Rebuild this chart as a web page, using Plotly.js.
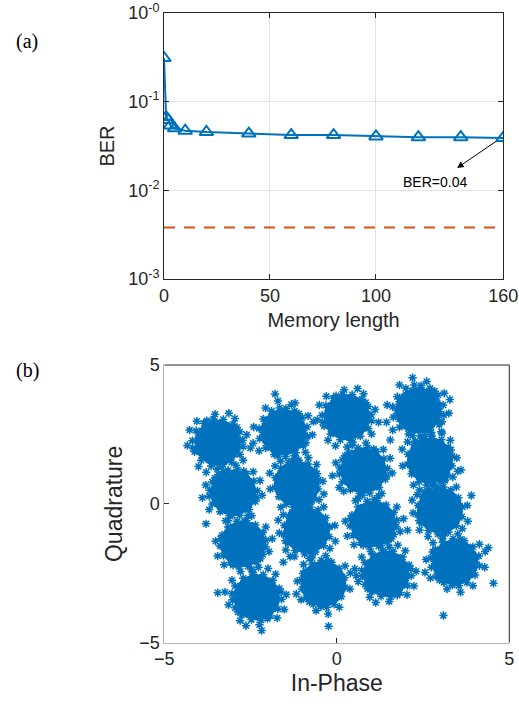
<!DOCTYPE html>
<html>
<head>
<meta charset="utf-8">
<script src="https://cdn.plot.ly/plotly-3.0.1.min.js"></script>
<style>html,body{margin:0;padding:0;background:#fff;}#chart{width:519px;height:711px;}</style>
</head>
<body>
<div id="chart"></div>
<script>
// ---- Panel (a): BER vs memory length ----
const memoryLength = [0, 1, 2, 3, 5, 10, 20, 40, 60, 80, 100, 120, 140, 160];
const berValues = [0.31, 0.067, 0.062, 0.054, 0.050, 0.047, 0.0455, 0.0437, 0.042, 0.042, 0.0405, 0.0398, 0.0398, 0.039];
const thresholdX = [0, 160];
const thresholdBER = [0.0038, 0.0038];
const berTickVals = [0.001, 0.01, 0.1, 1];
const berTickText = ['10<sup>-3</sup>', '10<sup>-2</sup>', '10<sup>-1</sup>', '10<sup>-0</sup>'];
const memTickVals = [0, 50, 100, 160];

// ---- Panel (b): constellation ----
const clusterI = [-3.45, -3.0, -2.72, -2.32, -1.55, -1.16, -0.87, -0.39, 0.29, 0.77, 1.06, 1.44, 2.36, 2.70, 2.99, 3.43];
const clusterQ = [2.2, 0.4, -1.44, -3.36, 2.58, 0.72, -0.96, -2.88, 3.12, 1.2, -0.72, -2.52, 3.36, 1.56, -0.24, -2.1];
const spreadI = [0.8, 0.76, 0.72, 0.78, 0.78, 0.7, 0.74, 0.7, 0.78, 0.76, 0.74, 0.78, 0.82, 0.72, 0.72, 0.78];
const spreadQ = [0.95, 0.92, 0.92, 0.92, 0.95, 0.92, 0.92, 0.92, 0.92, 0.92, 0.92, 0.92, 1.0, 0.96, 0.92, 0.92];
const offsetPattern = [
  [0.00,0.00],[0.12,0.08],[-0.10,0.14],[0.06,-0.16],[-0.18,-0.06],[0.20,-0.10],[-0.04,0.22],[0.16,0.20],[-0.22,0.12],[-0.12,-0.22],[0.24,0.02],[0.02,-0.26],
  [0.34,0.12],[0.28,-0.26],[0.10,0.38],[-0.30,0.28],[-0.40,-0.04],[-0.26,-0.32],[0.04,-0.42],[0.40,-0.06],[0.22,0.34],[-0.14,0.40],[-0.42,0.16],[-0.36,-0.24],[0.12,-0.36],[0.36,0.28],[-0.06,-0.32],[0.30,-0.40],
  [0.55,0.05],[0.48,0.30],[0.30,0.50],[0.02,0.58],[-0.28,0.50],[-0.50,0.30],[-0.58,0.00],[-0.48,-0.30],[-0.26,-0.52],[0.04,-0.56],[0.32,-0.48],[0.52,-0.24],[0.58,0.18],[0.16,0.54],[-0.14,0.56],[-0.56,0.14],[-0.56,-0.16],[-0.10,-0.58],[0.18,-0.56],[0.44,-0.40],
  [0.72,0.00],[0.66,0.30],[0.52,0.52],[0.26,0.68],[-0.04,0.74],[-0.34,0.64],[-0.58,0.44],[-0.72,0.16],[-0.70,-0.18],[-0.56,-0.46],[-0.30,-0.66],[0.00,-0.74],[0.32,-0.66],[0.58,-0.44],[0.70,-0.18],[0.64,0.40],[0.42,0.62],[-0.18,0.72],[-0.66,0.32],[-0.66,-0.34],[-0.12,-0.72],[0.46,-0.58],[0.74,0.12],[0.14,0.74],
  [0.90,0.10],[0.80,0.42],[0.56,0.70],[0.20,0.88],[-0.16,0.90],[-0.50,0.74],[-0.78,0.46],[-0.92,0.08],[-0.84,-0.34],[-0.60,-0.66],[-0.24,-0.88],[0.14,-0.90],[0.50,-0.74],[0.80,-0.44],[0.92,-0.14],[-0.40,0.84],[0.70,0.58],[-0.90,-0.20],
  [1.05,0.30],[0.62,0.92],[-0.10,1.08],[-0.76,0.82],[-1.10,-0.10],[-0.70,-0.90],[0.20,-1.10],[0.92,-0.66],[1.18,-0.20],[-1.02,0.48],[0.40,1.12],[-0.42,-1.12]
];
const outlierI = [-1.79, -1.21, 4.39, 4.54, 3.09, -0.24, 3.6, -3.79, 0.56, -2.18, -3.45, -1.55, 2.05, 1.55, -1.35, 2.4, 0.2, 3.9];
const outlierQ = [3.96, 3.63, -1.58, -2.86, -4.02, -4.41, 1.22, -0.72, -2.58, -4.56, -3.2, -2.1, -0.95, 2.3, -1.9, 0.5, 0.45, 0.3];

// Build constellation points from cluster centres, spreads and the typed offset pattern
const constI = [], constQ = [];
for (let k = 0; k < clusterI.length; k++) {
  const v = k % 8;
  offsetPattern.forEach(function (p) {
    let a = p[0], b = p[1];
    if (v & 1) a = -a;
    if (v & 2) b = -b;
    if (v & 4) { const t = a; a = b; b = t; }
    constI.push(clusterI[k] + spreadI[k] * a);
    constQ.push(clusterQ[k] + spreadQ[k] * b);
  });
}
outlierI.forEach(function (x, i) { constI.push(x); constQ.push(outlierQ[i]); });

const blue = '#0072BD';
const orange = '#D95319';
const axisCol = '#262626';
const tickFont = {family: 'Liberation Sans, Arial, sans-serif', size: 18, color: axisCol};

const traces = [
  {x: thresholdX, y: thresholdBER, xaxis: 'x', yaxis: 'y', mode: 'lines',
   line: {color: orange, width: 2, dash: '11px,9px'}, hoverinfo: 'skip'},
  {x: memoryLength, y: berValues, xaxis: 'x', yaxis: 'y', mode: 'lines+markers',
   line: {color: blue, width: 2},
   marker: {symbol: 'triangle-up-open', size: 12, color: blue, line: {width: 2, color: blue}}},
  // dense cores of the clusters
  {x: clusterI, y: clusterQ, xaxis: 'x2', yaxis: 'y2', mode: 'markers',
   marker: {symbol: 'circle', size: 46, color: blue, line: {width: 0}}},
  {x: constI, y: constQ, xaxis: 'x2', yaxis: 'y2', mode: 'markers',
   marker: {symbol: 'asterisk-open', size: 7, color: blue, line: {width: 1.5, color: blue}}}
];

const layout = {
  width: 519, height: 711,
  margin: {l: 0, r: 0, t: 0, b: 0},
  paper_bgcolor: '#fff', plot_bgcolor: '#fff',
  showlegend: false,
  font: {family: 'Liberation Sans, Arial, sans-serif', color: axisCol},
  xaxis: {
    domain: [0.316, 0.9695], range: [0, 160], tickvals: memTickVals,
    ticks: 'inside', ticklen: 5, tickcolor: axisCol, showline: true, linecolor: axisCol, linewidth: 1, mirror: 'ticks',
    showgrid: true, gridcolor: '#e3e3e3', zeroline: false, tickfont: tickFont,
    title: {text: 'Memory length', font: {size: 20, color: axisCol}, standoff: 8},
    anchor: 'y'
  },
  yaxis: {
    domain: [0.6076, 0.9817], type: 'log', range: [-3, 0], tickvals: berTickVals, ticktext: berTickText,
    ticks: 'inside', ticklen: 5, tickcolor: axisCol, showline: true, linecolor: axisCol, linewidth: 1, mirror: 'ticks',
    showgrid: true, gridcolor: '#e3e3e3', zeroline: false, tickfont: tickFont,
    title: {text: 'BER', font: {size: 20, color: axisCol}, standoff: 8},
    anchor: 'x'
  },
  xaxis2: {
    domain: [0.3166, 0.9813], range: [-5, 5], tickvals: [-5, 0, 5],
    ticks: 'inside', ticklen: 5, tickcolor: axisCol, showline: true, linecolor: '#b5b5b5', linewidth: 1, mirror: false,
    showgrid: false, zeroline: false, tickfont: tickFont,
    title: {text: 'In-Phase', font: {size: 23, color: axisCol}, standoff: 6},
    anchor: 'y2'
  },
  yaxis2: {
    domain: [0.0961, 0.4866], range: [-5, 5], tickvals: [-5, 0, 5],
    ticks: 'inside', ticklen: 5, tickcolor: axisCol, showline: true, linecolor: '#b5b5b5', linewidth: 1, mirror: false,
    showgrid: false, zeroline: false, tickfont: tickFont,
    title: {text: 'Quadrature', font: {size: 23, color: axisCol}, standoff: 10},
    anchor: 'x2'
  },
  shapes: [
    {type: 'line', xref: 'x2 domain', yref: 'y2 domain', x0: 0, x1: 1, y0: 1, y1: 1, line: {color: axisCol, width: 1}},
    {type: 'line', xref: 'x2 domain', yref: 'y2 domain', x0: 1, x1: 1, y0: 0, y1: 1, line: {color: axisCol, width: 1}}
  ],
  annotations: [
    {x: 138.3, y: -1.747, xref: 'x', yref: 'y', ax: 157.6, ay: -1.432, axref: 'x', ayref: 'y',
     showarrow: true, arrowhead: 2, arrowsize: 1.3, arrowwidth: 1, arrowcolor: '#000', text: ''},
    {x: 127.9, y: -1.905, xref: 'x', yref: 'y', showarrow: false, text: 'BER=0.04',
     font: {family: 'Liberation Sans, Arial, sans-serif', size: 14, color: '#000'}},
    {x: 27 / 519, y: 1 - 41 / 711, xref: 'paper', yref: 'paper', xanchor: 'center', yanchor: 'middle', showarrow: false, text: '(a)',
     font: {family: 'Liberation Serif, Times New Roman, serif', size: 20, color: '#000'}},
    {x: 27 / 519, y: 1 - 370 / 711, xref: 'paper', yref: 'paper', xanchor: 'center', yanchor: 'middle', showarrow: false, text: '(b)',
     font: {family: 'Liberation Serif, Times New Roman, serif', size: 20, color: '#000'}}
  ]
};

Plotly.newPlot('chart', traces, layout, {displayModeBar: false, staticPlot: true});
</script>
</body>
</html>
